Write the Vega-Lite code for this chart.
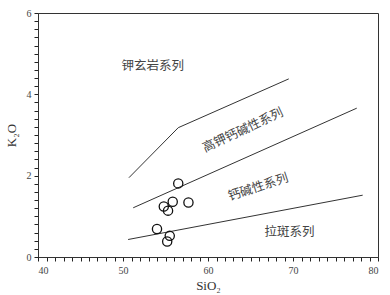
{
  "$schema": "https://vega.github.io/schema/vega-lite/v6.json",
  "width": 340,
  "height": 244,
  "autosize": "none",
  "padding": {"left": 38, "top": 13, "right": 12, "bottom": 38},
  "config": {"view": {"stroke": "#333", "strokeWidth": 1}},
  "datasets": {
    "bounds": [
      {"series": "thol", "SiO2": 50.6, "K2O": 0.43},
      {"series": "thol", "SiO2": 78.2, "K2O": 1.52},
      {"series": "ca", "SiO2": 51.2, "K2O": 1.21},
      {"series": "ca", "SiO2": 77.5, "K2O": 3.66},
      {"series": "hk", "SiO2": 50.7, "K2O": 1.95},
      {"series": "hk", "SiO2": 56.5, "K2O": 3.18},
      {"series": "hk", "SiO2": 69.5, "K2O": 4.38}
    ],
    "samples": [
      {"SiO2": 56.5, "K2O": 1.81},
      {"SiO2": 55.85, "K2O": 1.36},
      {"SiO2": 54.8, "K2O": 1.24},
      {"SiO2": 55.3, "K2O": 1.14},
      {"SiO2": 57.7, "K2O": 1.34},
      {"SiO2": 54.0, "K2O": 0.69},
      {"SiO2": 55.5, "K2O": 0.52},
      {"SiO2": 55.2, "K2O": 0.38}
    ],
    "labels": [
      {"name": "钾玄岩系列", "SiO2": 53.5, "K2O": 4.7, "angle": 0},
      {"name": "高钾钙碱性系列", "SiO2": 64.1, "K2O": 3.12, "angle": -25},
      {"name": "钙碱性系列", "SiO2": 65.9, "K2O": 1.72, "angle": -18},
      {"name": "拉斑系列", "SiO2": 69.6, "K2O": 0.61, "angle": 0}
    ]
  },
  "layer": [
    {
      "data": {"name": "bounds"},
      "mark": {"type": "line", "color": "#333", "strokeWidth": 1},
      "encoding": {
        "x": {
          "field": "SiO2", "type": "quantitative",
          "scale": {"domain": [40, 80], "nice": false, "zero": false},
          "axis": {
            "grid": false,
            "tickCount": 40,
            "labelExpr": "datum.value % 10 === 0 ? format(datum.value, 'd') : ''",
            "tickSize": 4,
            "tickWidth": 1,
            "tickColor": "#222",
            "domainColor": "#333",
            "labelFont": "Liberation Serif", "labelFontSize": 10, "labelColor": "#444",
            "labelPadding": 4,
            "labelOverlap": false,
            "title": "SiO₂", "titleFont": "Liberation Serif", "titleFontSize": 13,
            "titleFontWeight": "normal", "titleColor": "#333", "titlePadding": 4
          }
        },
        "y": {
          "field": "K2O", "type": "quantitative",
          "scale": {"domain": [0, 6], "nice": false, "zero": false},
          "axis": {
            "grid": false,
            "tickCount": 30,
            "labelExpr": "abs(datum.value - round(datum.value/2)*2) < 0.001 ? format(datum.value, 'd') : ''",
            "tickSize": 4,
            "tickColor": "#222",
            "domainColor": "#333",
            "labelFont": "Liberation Serif", "labelFontSize": 10, "labelColor": "#444",
            "labelPadding": 3,
            "labelOverlap": false,
            "title": "K₂O", "titleFont": "Liberation Serif", "titleFontSize": 13,
            "titleFontWeight": "normal", "titleColor": "#333", "titlePadding": 8
          }
        },
        "detail": {"field": "series"}
      }
    },
    {
      "data": {"name": "samples"},
      "mark": {"type": "point", "shape": "circle", "filled": false, "stroke": "#111", "strokeWidth": 1.3, "size": 85, "opacity": 1},
      "encoding": {
        "x": {"field": "SiO2", "type": "quantitative"},
        "y": {"field": "K2O", "type": "quantitative"}
      }
    },
    {
      "data": {"name": "labels"},
      "mark": {"type": "text", "font": "Noto Sans CJK SC", "fontSize": 12.5, "color": "#444", "align": "center", "baseline": "middle"},
      "encoding": {
        "x": {"field": "SiO2", "type": "quantitative"},
        "y": {"field": "K2O", "type": "quantitative"},
        "text": {"field": "name"},
        "angle": {"field": "angle", "type": "quantitative", "scale": null}
      }
    }
  ]
}
